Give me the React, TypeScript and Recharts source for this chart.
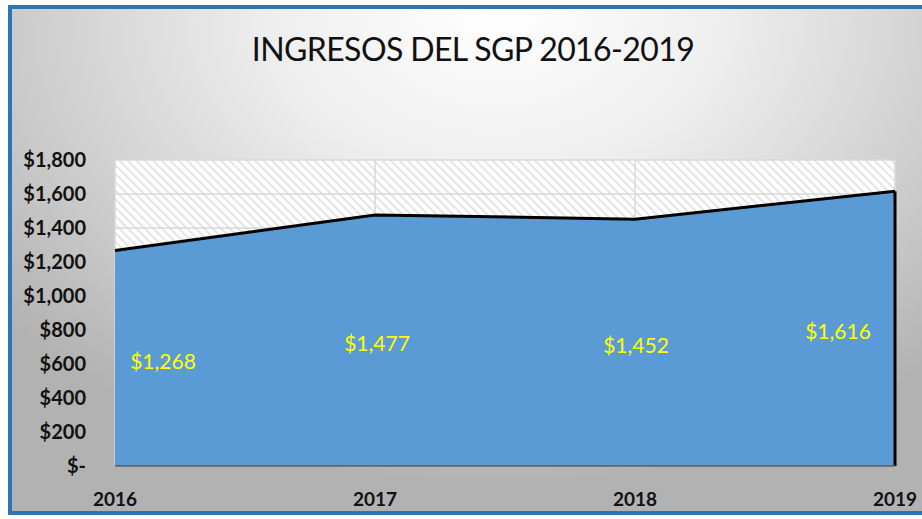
import React from 'react';
import { AreaChart, Area, XAxis, YAxis, CartesianGrid, LabelList, ReferenceLine } from 'recharts';

const years = ['2016', '2017', '2018', '2019'];
const ingresos = [1268, 1477, 1452, 1616];
const yTicks = [0, 200, 400, 600, 800, 1000, 1200, 1400, 1600, 1800];
const title = 'INGRESOS DEL SGP 2016-2019';

const data = years.map((y, i) => ({ year: y, value: ingresos[i] }));

const PLOT_BOTTOM = 466;
const FONT = 'Lato, "Open Sans", sans-serif';

const fmtMoney = (v: number) => (v === 0 ? '$-' : '$' + v.toLocaleString('en-US'));

const labelDx = [48, 2, 1, -57];

const DataLabel = (props: any) => {
  const { x, y, value, index } = props;
  const mid = y + (PLOT_BOTTOM - y) / 2 + 2;
  return (
    <text
      x={x + (labelDx[index] ?? 0)}
      y={mid}
      textAnchor="middle"
      dominantBaseline="central"
      fill="#FFFF00"
      fontSize={21}
      fontFamily={FONT}
    >
      {fmtMoney(value)}
    </text>
  );
};

export default function App() {
  return (
    <div style={{ position: 'fixed', left: 0, top: 0, width: 922, height: 519, background: '#ffffff', overflow: 'hidden' }}>
      <div
        style={{
          position: 'absolute',
          left: 8,
          top: 5,
          width: 940,
          height: 510,
          boxSizing: 'border-box',
          border: '4px solid #2E75B6',
          background: 'radial-gradient(ellipse 70% 95% at 52% 0%, #ffffff 0%, #eeeeee 35%, #cfcfcf 70%, #b2b2b2 100%)',
        }}
      />
      <div
        style={{
          position: 'absolute',
          left: 0,
          top: 29,
          width: 946,
          textAlign: 'center',
          fontFamily: FONT,
          fontSize: 32,
          color: '#111111',
          letterSpacing: -0.6,
        }}
      >
        {title}
      </div>
      <div style={{ position: 'absolute', left: 0, top: 0 }}>
        <AreaChart width={922} height={519} data={data} margin={{ top: 160, right: 27, bottom: 0, left: 0 }}>
          <defs>
            <pattern id="hatch" patternUnits="userSpaceOnUse" width="6" height="6" patternTransform="rotate(-45)">
              <rect width="6" height="6" fill="#ffffff" />
              <line x1="0" y1="0" x2="0" y2="6" stroke="#dcdcdc" strokeWidth="3" />
            </pattern>
          </defs>
          <CartesianGrid stroke="#d9d9d9" strokeWidth={1.5} fill="url(#hatch)" fillOpacity={1} />
          <XAxis
            dataKey="year"
            height={53}
            tickLine={false}
            axisLine={{ stroke: '#595959', strokeWidth: 1.5 }}
            tick={{ fill: '#111111', fontSize: 19, fontWeight: 700, fontFamily: FONT }}
            tickMargin={21}
            interval={0}
          />
          <YAxis
            width={115}
            domain={[0, 1800]}
            ticks={yTicks}
            tickFormatter={fmtMoney}
            axisLine={false}
            tickLine={false}
            tickSize={0}
            tickMargin={29}
            tick={{ fill: '#111111', fontSize: 20, fontWeight: 700, fontFamily: FONT }}
          />
          <Area
            type="linear"
            dataKey="value"
            stroke="#000000"
            strokeWidth={3}
            fill="#5B9BD5"
            fillOpacity={1}
            isAnimationActive={false}
          >
            <LabelList dataKey="value" content={<DataLabel />} />
          </Area>
          <ReferenceLine
            segment={[{ x: years[3], y: 0 }, { x: years[3], y: ingresos[3] }]}
            stroke="#000000"
            strokeWidth={3}
            ifOverflow="visible"
          />
        </AreaChart>
      </div>
    </div>
  );
}
